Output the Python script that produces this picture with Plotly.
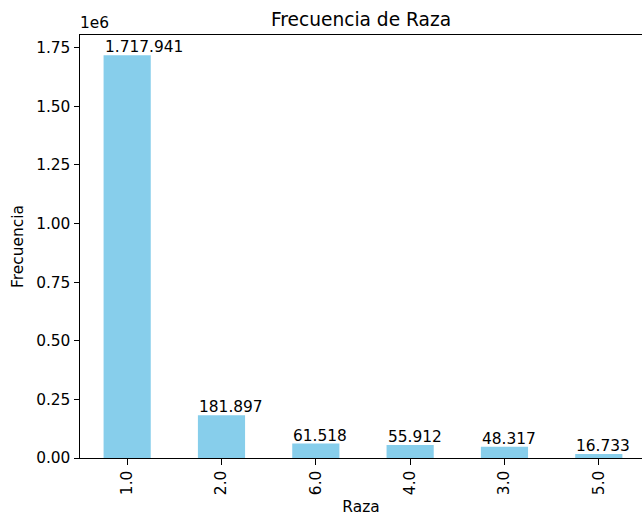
import plotly.graph_objects as go

# Frequency of each race code, sorted as counted
categorias = ["1.0", "2.0", "6.0", "4.0", "3.0", "5.0"]
frecuencias = [1717941, 181897, 61518, 55912, 48317, 16733]
etiquetas = ["1.717.941", "181.897", "61.518", "55.912", "48.317", "16.733"]

y_ticks = [0, 250000, 500000, 750000, 1000000, 1250000, 1500000, 1750000]
y_tick_text = ["0.00", "0.25", "0.50", "0.75", "1.00", "1.25", "1.50", "1.75"]

FONT = "DejaVu Sans"
FS = 15.4
FS_TITLE = 18.6
posiciones = list(range(len(categorias)))
ancho = 0.5

fig = go.Figure(
    go.Bar(
        x=posiciones,
        y=frecuencias,
        width=ancho,
        marker=dict(color="#87CEEB", line=dict(width=0)),
        hoverinfo="skip",
    )
)

# Value labels start at each bar's left edge, sitting on its top
for pos, val, txt in zip(posiciones, frecuencias, etiquetas):
    fig.add_annotation(
        x=pos - ancho / 2, y=val, text=txt, showarrow=False,
        xanchor="left", yanchor="bottom", yshift=-3, xshift=-1,
        font=dict(family=FONT, size=FS, color="black"),
    )

# Offset text for the y scale
fig.add_annotation(
    xref="paper", yref="paper", x=0, y=1, text="1e6", showarrow=False,
    xanchor="left", yanchor="bottom", yshift=1, xshift=-2,
    font=dict(family=FONT, size=FS, color="black"),
)

fig.update_layout(
    width=642, height=516,
    margin=dict(l=80, r=0, t=35, b=58),
    paper_bgcolor="white", plot_bgcolor="white",
    showlegend=False,
    title=dict(
        text="Frecuencia de Raza", x=0.5, xref="paper", xanchor="center",
        y=1 - 19 / 516, yanchor="middle",
        font=dict(family=FONT, size=FS_TITLE, color="black"),
    ),
    font=dict(family=FONT, size=FS, color="black"),
)

fig.update_xaxes(
    range=[-0.5, 5.458],
    tickvals=posiciones, ticktext=categorias, tickangle=-90,
    ticks="outside", ticklen=5.5, tickwidth=1, tickcolor="black",
    showline=True, linecolor="black", linewidth=1, mirror=True,
    showgrid=False, zeroline=False,
    title=dict(text="Raza", font=dict(family=FONT, size=FS, color="black"), standoff=7),
    tickfont=dict(family=FONT, size=FS, color="black"),
)
fig.update_yaxes(
    range=[0, 1717941 * 1.05],
    tickvals=y_ticks, ticktext=y_tick_text,
    ticks="outside", ticklen=5.5, tickwidth=1, tickcolor="black",
    showline=True, linecolor="black", linewidth=1, mirror=False,
    showgrid=False, zeroline=False,
    title=dict(text="Frecuencia", font=dict(family=FONT, size=FS, color="black"), standoff=8),
    tickfont=dict(family=FONT, size=FS, color="black"),
)

fig.write_html("out.html")
